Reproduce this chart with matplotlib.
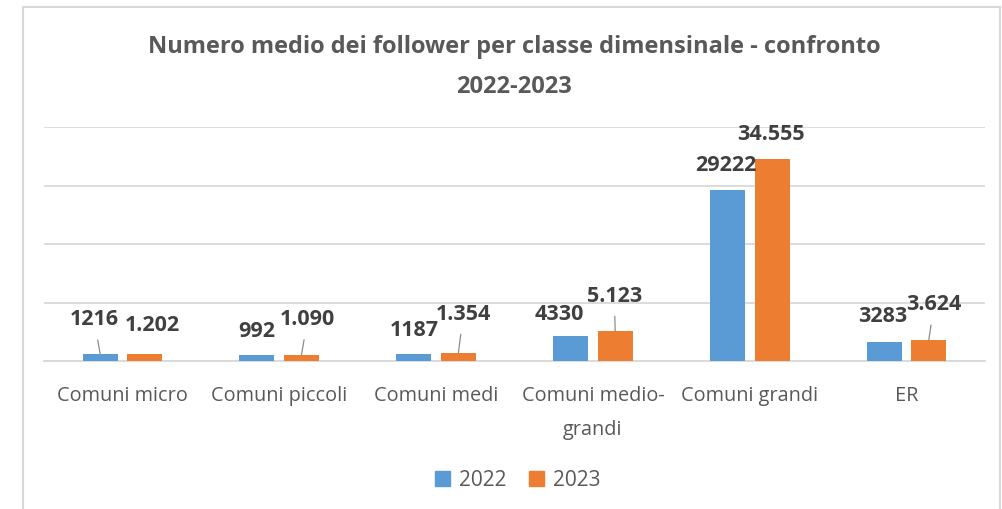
import matplotlib
matplotlib.use("Agg")
import matplotlib.pyplot as plt
from matplotlib.patches import Rectangle, Patch
import numpy as np

categories = ["Comuni micro", "Comuni piccoli", "Comuni medi", "Comuni medio-\ngrandi", "Comuni grandi", "ER"]
series_names = ["2022", "2023"]
values_2022 = [1216, 992, 1187, 4330, 29222, 3283]
values_2023 = [1202, 1090, 1354, 5123, 34555, 3624]

# label styling: offsets in pixels (dx, dy up) and leader-line flags
off_2022 = [(-6, 34), (0, 24), (0, 24), (-11, 21), (-2, 24.5), (-2, 25)]
off_2023 = [(8, 28), (6, 35), (5, 39), (-1, 35), (-1, 24), (5, 35)]
lead_2022 = [True, False, False, False, False, False]
lead_2023 = [False, True, True, True, False, True]

W, H = 1003, 509
fig = plt.figure(figsize=(W / 100, H / 100), dpi=100)
plt.rcParams['font.family'] = ['Open Sans', 'DejaVu Sans']

ax = fig.add_axes([44 / W, (H - 361) / H, (985 - 44) / W, (361 - 127) / H])

blue = "#5B9BD5"
orange = "#ED7D31"
x = np.arange(len(categories))
bw = 35 / 157
off = 22.3 / 157
ax.bar(x - off, values_2022, width=bw, color=blue, zorder=3)
ax.bar(x + off, values_2023, width=bw, color=orange, zorder=3)

ax.set_xlim(-0.5, len(categories) - 0.5)
ax.set_ylim(0, 40000)
ax.set_yticks([0, 10000, 20000, 30000, 40000])
ax.yaxis.grid(True, color="#d9d9d9", lw=1.3, zorder=0)
ax.set_axisbelow(True)
ax.tick_params(axis='y', left=False, labelleft=False)
ax.tick_params(axis='x', length=0, pad=18, labelsize=14.3, labelcolor="#595959")
ax.set_xticks(x)
ax.set_xticklabels(categories, linespacing=1.95)
for s in ["top", "right", "left"]:
    ax.spines[s].set_visible(False)
ax.spines["bottom"].set_color("#d9d9d9")
ax.spines["bottom"].set_linewidth(1.3)
ax.set_facecolor("none")

px = 0.72  # points per pixel

def label(xc, v, txt, o, lead):
    kw = dict(xy=(xc, v), xytext=(o[0] * px, o[1] * px), textcoords="offset points",
              ha="center", va="center", fontsize=15.5, fontweight="bold", color="#404040", zorder=5)
    if lead:
        kw["arrowprops"] = dict(arrowstyle="-", color="#8c8c8c", lw=0.9, shrinkA=5, shrinkB=0)
    ax.annotate(txt, **kw)

for i in range(len(categories)):
    label(x[i] - off, values_2022[i], str(values_2022[i]), off_2022[i], lead_2022[i])
    label(x[i] + off, values_2023[i], f"{values_2023[i]:,}".replace(",", "."), off_2023[i], lead_2023[i])

fig.text(514 / W, 1 - 47 / H, "Numero medio dei follower per classe dimensinale - confronto",
         ha="center", va="center", fontsize=17, fontweight="bold", color="#595959")
fig.text(514 / W, 1 - 87 / H, "2022-2023",
         ha="center", va="center", fontsize=17, fontweight="bold", color="#595959")

handles = [Patch(color=blue), Patch(color=orange)]
fig.legend(handles, series_names, loc="center", bbox_to_anchor=(518 / W, 1 - 480 / H), ncol=2,
           frameon=False, fontsize=15, labelcolor="#595959", handlelength=0.7, handleheight=0.7,
           handletextpad=0.45, columnspacing=1.1)

fig.add_artist(Rectangle((23 / W, -0.05), (1000 - 23) / W, 1.05 - 7 / H, transform=fig.transFigure,
                         fill=False, edgecolor="#d9d9d9", lw=1.5))

fig.savefig("out.png", dpi=100)
